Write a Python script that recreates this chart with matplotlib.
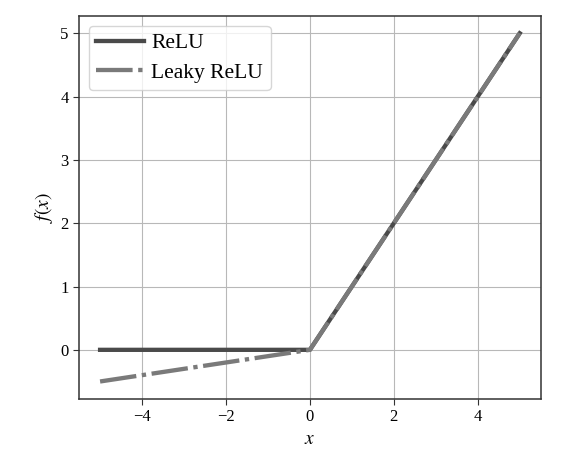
import matplotlib.pyplot as plt

plt.rcParams['font.family'] = ['Liberation Serif', 'DejaVu Serif']
plt.rcParams['mathtext.fontset'] = 'stix'

x = [-5, 0, 5]
relu = [0, 0, 5]
leaky_relu = [-0.5, 0, 5]

fig = plt.figure(figsize=(5.65, 4.66), dpi=100)
ax = fig.add_axes([0.14, 0.144, 0.817, 0.822])

ax.plot(x, relu, color='#4a4a4a', linewidth=3.1, label='ReLU')
ax.plot(x, leaky_relu, color='#7a7a7a', linewidth=3.1, dashes=(8.5, 1.3, 1, 1.3),
        label='Leaky ReLU')

ax.grid(True, color='#b8b8b8', linewidth=0.8)
ax.set_xlabel('$x$', fontsize=14)
ax.set_ylabel('$f(x)$', fontsize=14)
ax.tick_params(labelsize=12, color='#333333', length=4)
for s in ax.spines.values():
    s.set_color('#333333')
    s.set_linewidth(1.1)

ax.legend(loc='upper left', fontsize=15.5, framealpha=0.8, edgecolor='#cccccc',
          handlelength=2.2, handletextpad=0.35, borderaxespad=0.45,
          borderpad=0.35, labelspacing=0.45)

fig.savefig('out.png', dpi=100)
